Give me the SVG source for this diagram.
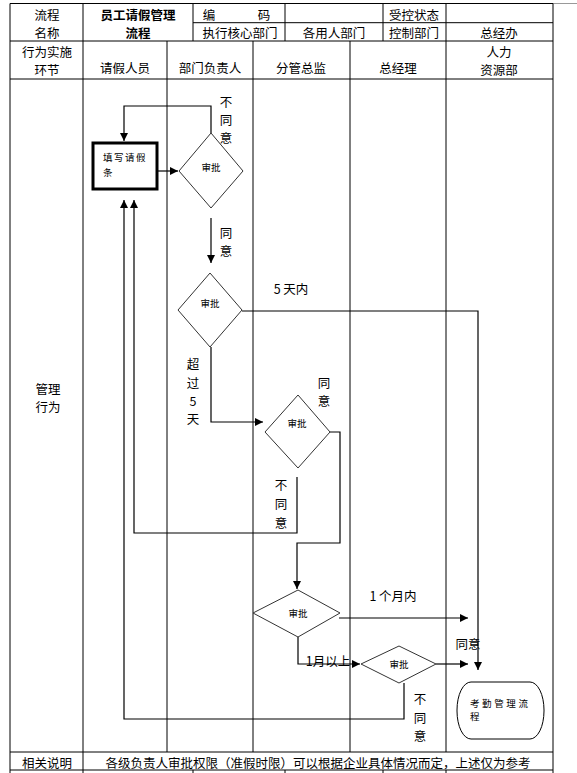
<svg xmlns="http://www.w3.org/2000/svg" width="577" height="773" viewBox="0 0 577 773">
<style>
.t{font-family:"Noto Sans CJK SC","Liberation Sans",sans-serif;font-size:12.5px;fill:#000;text-anchor:middle;dominant-baseline:central}
.b{font-weight:bold}
.s{font-family:"Noto Sans CJK SC","Liberation Sans",sans-serif;font-size:9.5px;fill:#000;dominant-baseline:central}
.g{stroke:#000;stroke-width:1;fill:none}
.c{stroke:#000;stroke-width:1.2;fill:none}
.d{stroke:#333;stroke-width:1;fill:#fff}
</style>
<defs>
<marker id="ah" viewBox="0 0 10 10" refX="10" refY="5" markerWidth="8" markerHeight="8" markerUnits="userSpaceOnUse" orient="auto">
<path d="M0,0 L10,5 L0,10 Z" fill="#000"/>
</marker>
</defs>
<rect width="577" height="773" fill="#fff"/>
<g id="table">
<line x1="553" y1="3.5" x2="577" y2="3.5" stroke="#999" stroke-width="1"/>
<path class="g" d="M10,3.5 H553 M10,41 H553 M193,22.7 H553 M10,79 H553 M10,752 H553 M10,770 H553"/>
<path class="g" d="M10,3.5 V773 M553,3.5 V773 M83,3.5 V41 M193,3.5 V41 M285,3.5 V41 M383,3.5 V41 M446,3.5 V752"/>
<path class="g" d="M83,41 V773 M167,41 V752 M253,41 V752 M350,41 V752 M193,770 V773 M285,770 V773 M383,770 V773 M446,770 V773"/>
<text class="t" x="47" y="14">流程</text>
<text class="t" x="47" y="32">名称</text>
<text class="t b" x="138" y="14">员工请假管理</text>
<text class="t b" x="138" y="32">流程</text>
<text class="t" x="209" y="14">编</text>
<text class="t" x="264" y="14">码</text>
<text class="t" x="240" y="32">执行核心部门</text>
<text class="t" x="334" y="32">各用人部门</text>
<text class="t" x="414" y="14">受控状态</text>
<text class="t" x="414" y="32">控制部门</text>
<text class="t" x="499" y="32">总经办</text>
<text class="t" x="47" y="51">行为实施</text>
<text class="t" x="47" y="69">环节</text>
<text class="t" x="125" y="67">请假人员</text>
<text class="t" x="210" y="67">部门负责人</text>
<text class="t" x="301" y="67">分管总监</text>
<text class="t" x="398" y="67">总经理</text>
<text class="t" x="499" y="51">人力</text>
<text class="t" x="499" y="69">资源部</text>
<text class="t" x="48" y="388">管理</text>
<text class="t" x="48" y="406">行为</text>
<text class="t" x="47" y="762">相关说明</text>
<text class="t" x="318" y="762">各级负责人审批权限（准假时限）可以根据企业具体情况而定，上述仅为参考</text>
</g>
<g id="connectors">
<path class="c" d="M158,171 H178" marker-end="url(#ah)"/>
<path class="c" d="M211,133 V106 H124 V141" marker-end="url(#ah)"/>
<path class="c" d="M211,218 V263" marker-end="url(#ah)"/>
<path class="c" d="M242,311 H478 V670" marker-end="url(#ah)"/>
<path class="c" d="M211,347 V422 H263" marker-end="url(#ah)"/>
<path class="c" d="M330,432 H340 V543 H297 V589" marker-end="url(#ah)"/>
<path class="c" d="M297,477 V533 H134 V200" marker-end="url(#ah)"/>
<path class="c" d="M339,618 H468" marker-end="url(#ah)"/>
<path class="c" d="M298,637 V664 H360" marker-end="url(#ah)"/>
<path class="c" d="M436,664 H468" marker-end="url(#ah)"/>
<path class="c" d="M404,683 V719 H124 V200" marker-end="url(#ah)"/>
</g>
<g id="labels">
<text class="t" x="226" y="101">不</text>
<text class="t" x="226" y="119">同</text>
<text class="t" x="226" y="137">意</text>
<text class="t" x="226" y="232">同</text>
<text class="t" x="226" y="250">意</text>
<text class="t" x="291" y="288">5 天内</text>
<text class="t" x="193" y="363">超</text>
<text class="t" x="193" y="382">过</text>
<text class="t" x="193" y="400">5</text>
<text class="t" x="193" y="418">天</text>
<text class="t" x="324" y="382">同</text>
<text class="t" x="324" y="400">意</text>
<text class="t" x="281" y="484">不</text>
<text class="t" x="281" y="503">同</text>
<text class="t" x="281" y="522">意</text>
<text class="t" x="393" y="595">1 个月内</text>
<text class="t" x="328" y="660">1月以上</text>
<text class="t" x="468" y="643">同意</text>
<text class="t" x="420" y="698">不</text>
<text class="t" x="420" y="717">同</text>
<text class="t" x="420" y="735">意</text>
</g>
<g id="fill-form">
<rect x="93" y="143" width="64" height="46" fill="#fff" stroke="#000" stroke-width="3"/>
<text class="s" x="103" y="157" letter-spacing="1.5">填写请假</text>
<text class="s" x="103" y="172">条</text>
</g>
<g id="approve-dept">
<polygon class="d" points="211,133 243,171 211,208 179,171"/>
<text class="s" x="211" y="167" text-anchor="middle">审批</text>
</g>
<g id="approve-dept-days">
<polygon class="d" points="210,273 242,310 210,347 178,310"/>
<text class="s" x="210" y="303" text-anchor="middle">审批</text>
</g>
<g id="approve-director">
<polygon class="d" points="298,395 330,432 298,468 265,432"/>
<text class="s" x="297" y="423" text-anchor="middle">审批</text>
</g>
<g id="approve-director-month">
<polygon class="d" points="298,590 340,613 298,637 253,613"/>
<text class="s" x="298" y="613" text-anchor="middle">审批</text>
</g>
<g id="approve-gm">
<polygon class="d" points="399,646 436,664 399,683 361,664"/>
<text class="s" x="399" y="664" text-anchor="middle">审批</text>
</g>
<g id="attendance">
<rect x="457" y="682" width="87" height="57" rx="14" ry="28" fill="#fff" stroke="#000" stroke-width="1"/>
<text class="s" x="470" y="703" letter-spacing="2.6">考勤管理流</text>
<text class="s" x="470" y="716">程</text>
</g>
</svg>
